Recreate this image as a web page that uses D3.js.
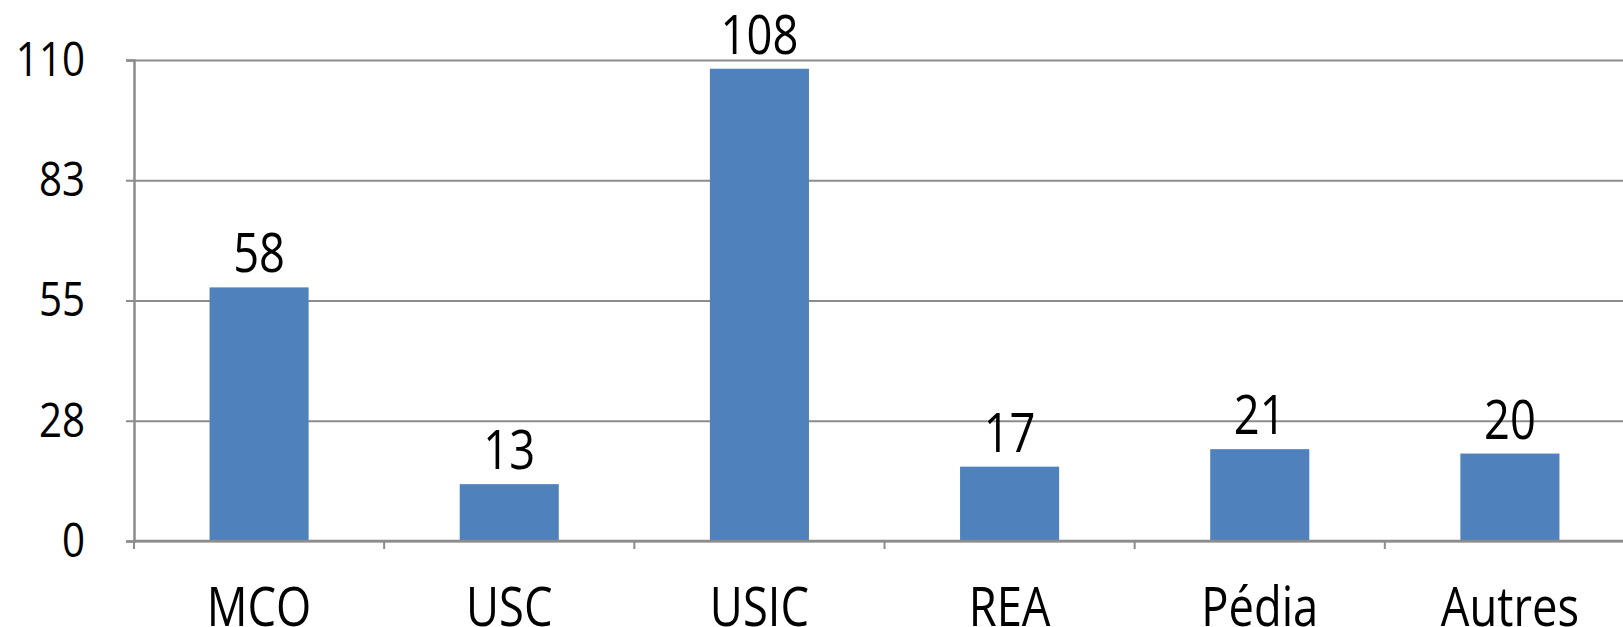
<!DOCTYPE html>
<html>
<head>
<meta charset="utf-8">
<script src="https://cdn.jsdelivr.net/npm/d3@7/dist/d3.min.js"></script>
<style>
  html, body { margin: 0; padding: 0; background: #fff; }
  svg { display: block; }
  text { font-family: "Open Sans", "Noto Sans", sans-serif; fill: #000; }
</style>
</head>
<body>
<svg id="chart" width="1623" height="627"></svg>
<script>
// Service categories and their counts
const categories = ["MCO", "USC", "USIC", "REA", "Pédia", "Autres"];
const values = [58, 13, 108, 17, 21, 20];

// Value axis: evenly spaced ticks, shown rounded
const yTickValues = [0, 27.5, 55, 82.5, 110];
const yTickLabels = ["0", "28", "55", "83", "110"];
const yMax = 110;

const svg = d3.select("#chart");
const margin = { left: 134, top: 60, bottom: 86 };
const plotWidth = 1501;            // runs a little past the right edge
const plotBottom = 627 - margin.bottom;

const x = d3.scaleBand()
  .domain(categories)
  .range([margin.left, margin.left + plotWidth])
  .paddingInner(0.604)
  .paddingOuter(0.302);

const y = d3.scaleLinear()
  .domain([0, yMax])
  .range([plotBottom, margin.top]);

const gridColor = "#8c8c8c";
const squeeze = 0.84;   // condensed lettering

// Horizontal gridlines
const grid = svg.append("g")
  .attr("transform", `translate(${margin.left},0)`)
  .call(d3.axisLeft(y).tickValues(yTickValues).tickSize(-plotWidth).tickFormat(""));
grid.select(".domain").remove();
grid.selectAll(".tick line").attr("stroke", gridColor).attr("stroke-width", 2);

// Bars
svg.append("g").selectAll("rect")
  .data(values)
  .join("rect")
  .attr("x", (d, i) => x(categories[i]))
  .attr("width", x.bandwidth())
  .attr("y", d => y(d))
  .attr("height", d => y(0) - y(d))
  .attr("fill", "#4f81bd");

// Y axis with short outer ticks and labels
const yAxis = svg.append("g")
  .attr("transform", `translate(${margin.left},0)`)
  .call(d3.axisLeft(y)
    .tickValues(yTickValues)
    .tickSize(8)
    .tickPadding(41)
    .tickFormat((d, i) => yTickLabels[i]));
yAxis.select(".domain").attr("stroke", gridColor).attr("stroke-width", 2.5);
yAxis.selectAll(".tick line").attr("stroke", gridColor).attr("stroke-width", 2);
yAxis.selectAll(".tick text")
  .attr("font-size", 48)
  .attr("x", -49 / squeeze)
  .attr("transform", `scale(${squeeze},1)`);

// X axis baseline with ticks between categories
const boundaries = d3.range(categories.length + 1).map(i => margin.left + i * x.step());
svg.append("line")
  .attr("x1", margin.left).attr("x2", margin.left + plotWidth)
  .attr("y1", y(0)).attr("y2", y(0))
  .attr("stroke", gridColor).attr("stroke-width", 2.5);
svg.append("g").selectAll("line")
  .data(boundaries)
  .join("line")
  .attr("x1", d => d).attr("x2", d => d)
  .attr("y1", y(0)).attr("y2", y(0) + 8)
  .attr("stroke", gridColor).attr("stroke-width", 2);

// Category labels
svg.append("g").selectAll("text")
  .data(categories)
  .join("text")
  .attr("transform", d => `translate(${x(d) + x.bandwidth() / 2},${plotBottom + 85}) scale(${squeeze},1)`)
  .attr("text-anchor", "middle")
  .attr("font-size", 54)
  .text(d => d);

// Value labels above bars
svg.append("g").selectAll("text")
  .data(values)
  .join("text")
  .attr("transform", (d, i) => `translate(${x(categories[i]) + x.bandwidth() / 2},${y(d) - 15}) scale(${squeeze},1)`)
  .attr("text-anchor", "middle")
  .attr("font-size", 54)
  .text(d => d);
</script>
</body>
</html>
